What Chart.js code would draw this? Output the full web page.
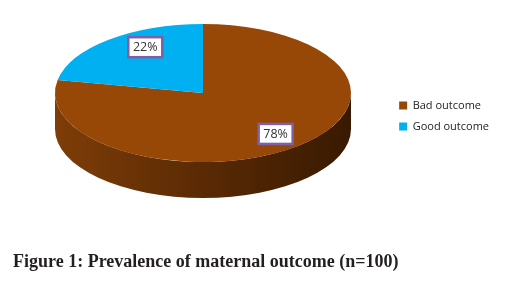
<!DOCTYPE html>
<html>
<head>
<meta charset="utf-8">
<script src="https://cdn.jsdelivr.net/npm/chart.js@4.4.1/dist/chart.umd.min.js"></script>
<style>
  body { margin: 0; background: #fff; }
  #wrap { position: relative; width: 513px; height: 286px; }
  #caption {
    position: absolute; left: 13px; top: 251px;
    font-family: "Liberation Serif", serif; font-weight: bold; font-size: 18px;
    color: #231f20; white-space: nowrap;
  }
</style>
</head>
<body>
<div id="wrap">
  <canvas id="chart"></canvas>
  <div id="caption">Figure 1: Prevalence of maternal outcome (n=100)</div>
</div>
<script>
const categories = ['Bad outcome', 'Good outcome'];
const values = [78, 22];
const labelsText = ['78%', '22%'];
const colors = ['#974706', '#00b0f0'];

// where the tilted pie sits on the canvas
const pieCenterX = 203;
const pieCenterY = 93;
const pieRadiusX = 148;
const pieRadiusY = 69;
const pieDepth = 36;

function pieTransform(ctx, arc) {
    const r = arc.outerRadius;
    ctx.translate(pieCenterX, pieCenterY);
    ctx.scale(pieRadiusX / r, pieRadiusY / r);
    ctx.translate(-arc.x, -arc.y);
}

const tiltPlugin = {
    id: 'tilt',
    beforeDatasetsDraw(chart) {
        const ctx = chart.ctx;
        const arcs = chart.getDatasetMeta(0).data;
        // side wall of the front half, drawn from each arc's angles
        const grad = ctx.createLinearGradient(pieCenterX - pieRadiusX, 0, pieCenterX + pieRadiusX, 0);
        grad.addColorStop(0, '#7e3d08');
        grad.addColorStop(0.5, '#5a2a04');
        grad.addColorStop(1, '#381a01');
        arcs.forEach((arc, i) => {
            // canvas angles, brought into 0..2PI
            let a0 = arc.startAngle, a1 = arc.endAngle;
            const twoPi = Math.PI * 2;
            while (a0 < 0) { a0 += twoPi; a1 += twoPi; }
            const ranges = [[a0, a1], [a0 - twoPi, a1 - twoPi]];
            ranges.forEach(([s, e]) => {
                const from = Math.max(s, 0);
                const to = Math.min(e, Math.PI);
                if (to <= from) return;
                ctx.save();
                ctx.beginPath();
                ctx.ellipse(pieCenterX, pieCenterY, pieRadiusX, pieRadiusY, 0, from, to);
                ctx.ellipse(pieCenterX, pieCenterY + pieDepth, pieRadiusX, pieRadiusY, 0, to, from, true);
                ctx.closePath();
                ctx.fillStyle = i === 0 ? grad : '#007aa8';
                ctx.fill();
                ctx.restore();
            });
        });
        ctx.save();
        pieTransform(ctx, arcs[0]);
    },
    afterDatasetsDraw(chart) {
        const ctx = chart.ctx;
        ctx.restore();
        const arcs = chart.getDatasetMeta(0).data;
        ctx.save();
        ctx.font = '12.5px "Open Sans", sans-serif';
        ctx.textAlign = 'center';
        ctx.textBaseline = 'middle';
        arcs.forEach((arc, i) => {
            // small slice labels sit a little nearer the top, like the original perspective
            const mid = (arc.startAngle + arc.endAngle) / 2 + (i === 1 ? 0.16 : 0);
            const f = 0.77;
            const x = pieCenterX + Math.cos(mid) * pieRadiusX * f;
            const y = pieCenterY + Math.sin(mid) * pieRadiusY * f;
            const w = 34, h = 20;
            ctx.fillStyle = '#ffffff';
            ctx.fillRect(x - w / 2, y - h / 2, w, h);
            ctx.lineWidth = 2.5;
            ctx.strokeStyle = '#7f5fa5';
            ctx.strokeRect(x - w / 2, y - h / 2, w, h);
            ctx.fillStyle = '#333333';
            ctx.fillText(labelsText[i], x, y + 0.5);
        });
        ctx.restore();
    }
};

new Chart(document.getElementById('chart'), {
    type: 'pie',
    data: {
        labels: categories,
        datasets: [{
            data: values,
            backgroundColor: colors,
            borderWidth: 0
        }]
    },
    options: {
        responsive: true,
        maintainAspectRatio: false,
        animation: false,
        layout: { padding: { top: 0, bottom: 54, right: 14 } },
        plugins: {
            legend: {
                position: 'right',
                labels: {
                    boxWidth: 8,
                    boxHeight: 8,
                    color: '#222222',
                    font: { family: '"Open Sans", sans-serif', size: 11 }
                }
            },
            tooltip: { enabled: false }
        }
    },
    plugins: [tiltPlugin]
});
</script>
</body>
</html>
